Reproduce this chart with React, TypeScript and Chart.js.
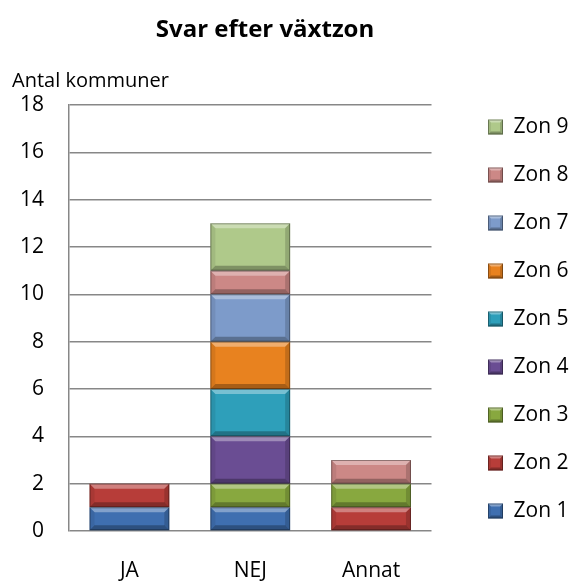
import React, { useEffect, useRef } from "react";
import { Chart, registerables } from "chart.js";

Chart.register(...registerables);

const categories = ["JA", "NEJ", "Annat"];
const zoneLabels = ["Zon 1", "Zon 2", "Zon 3", "Zon 4", "Zon 5", "Zon 6", "Zon 7", "Zon 8", "Zon 9"];
const zon1 = [1, 1, 0];
const zon2 = [1, 0, 1];
const zon3 = [0, 1, 1];
const zon4 = [0, 2, 0];
const zon5 = [0, 2, 0];
const zon6 = [0, 2, 0];
const zon7 = [0, 2, 0];
const zon8 = [0, 1, 1];
const zon9 = [0, 2, 0];
const zoneValues = [zon1, zon2, zon3, zon4, zon5, zon6, zon7, zon8, zon9];
const zoneColors = [
  "#3F6FB0", "#B73D39", "#88A83F", "#6A4D93", "#2E9FBA",
  "#E8821F", "#7D9BCA", "#CC8886", "#AFC98A",
];
const yTicks = [0, 2, 4, 6, 8, 10, 12, 14, 16, 18];
const chartTitle = "Svar efter växtzon";
const yAxisTitle = "Antal kommuner";

const FONT = "'Open Sans', sans-serif";

function bevel(ctx: CanvasRenderingContext2D, l: number, t: number, r: number, b: number, size: number) {
  const s = Math.min(size, (b - t) / 3);
  ctx.save();
  ctx.fillStyle = "rgba(255,255,255,0.35)";
  ctx.beginPath();
  ctx.moveTo(l, t); ctx.lineTo(r, t); ctx.lineTo(r - s, t + s); ctx.lineTo(l + s, t + s);
  ctx.closePath(); ctx.fill();
  ctx.fillStyle = "rgba(0,0,0,0.28)";
  ctx.beginPath();
  ctx.moveTo(l, b); ctx.lineTo(r, b); ctx.lineTo(r - s, b - s); ctx.lineTo(l + s, b - s);
  ctx.closePath(); ctx.fill();
  ctx.fillStyle = "rgba(0,0,0,0.08)";
  ctx.beginPath();
  ctx.moveTo(l, t); ctx.lineTo(l + s, t + s); ctx.lineTo(l + s, b - s); ctx.lineTo(l, b);
  ctx.closePath(); ctx.fill();
  ctx.fillStyle = "rgba(0,0,0,0.16)";
  ctx.beginPath();
  ctx.moveTo(r, t); ctx.lineTo(r - s, t + s); ctx.lineTo(r - s, b - s); ctx.lineTo(r, b);
  ctx.closePath(); ctx.fill();
  ctx.strokeStyle = "rgba(0,0,0,0.35)";
  ctx.lineWidth = 1;
  ctx.strokeRect(l + 0.5, t + 0.5, r - l - 1, b - t - 1);
  ctx.restore();
}

const bevelPlugin = {
  id: "bevel",
  afterDatasetsDraw(chart: any) {
    const ctx = chart.ctx;
    chart.data.datasets.forEach((ds: any, di: number) => {
      const meta = chart.getDatasetMeta(di);
      if (meta.hidden) return;
      meta.data.forEach((bar: any, i: number) => {
        if (!ds.data[i]) return;
        const p = bar.getProps(["x", "y", "base", "width"], true);
        bevel(ctx, p.x - p.width / 2, Math.min(p.y, p.base), p.x + p.width / 2, Math.max(p.y, p.base), 5);
      });
    });
  },
  afterDraw(chart: any) {
    const lg = chart.legend;
    if (!lg || !lg.legendHitBoxes) return;
    const ctx = chart.ctx;
    lg.legendHitBoxes.forEach((hb: any) => {
      const top = hb.top + Math.max((hb.height - 15) / 2, 0);
      bevel(ctx, hb.left, top, hb.left + 15, top + 15, 3);
    });
  },
};

const legendPlacePlugin = {
  id: "legendPlace",
  afterLayout(chart: any) {
    const lg = chart.legend;
    if (!lg) return;
    const w = lg.width;
    const h = lg.height;
    lg.left = 461;
    lg.right = 461 + w;
    lg.top = 89.5;
    lg.bottom = 89.5 + h;
  },
};

const textPlugin = {
  id: "texts",
  afterDraw(chart: any) {
    const ctx = chart.ctx;
    ctx.save();
    ctx.fillStyle = "#000";
    ctx.font = `bold 24px ${FONT}`;
    ctx.textAlign = "center";
    ctx.textBaseline = "middle";
    ctx.fillText(chartTitle, 265, 30);
    ctx.font = `20px ${FONT}`;
    ctx.textAlign = "left";
    ctx.textBaseline = "alphabetic";
    ctx.fillText(yAxisTitle, 12, 87);
    ctx.restore();
  },
};

const bgPlugin = {
  id: "bg",
  beforeDraw(chart: any) {
    const ctx = chart.ctx;
    ctx.save();
    ctx.fillStyle = "#fff";
    ctx.fillRect(0, 0, chart.width, chart.height);
    ctx.restore();
  },
};

export default function App() {
  const canvasRef = useRef<HTMLCanvasElement | null>(null);

  useEffect(() => {
    document.body.style.margin = "0";
    const canvas = canvasRef.current;
    if (!canvas) return;
    const chart = new Chart(canvas, {
      type: "bar",
      data: {
        labels: categories,
        datasets: zoneLabels.map((label, i) => ({
          label,
          data: zoneValues[i],
          backgroundColor: zoneColors[i],
          borderWidth: 0,
          categoryPercentage: 1,
          barPercentage: 0.66,
        })),
      },
      options: {
        animation: false,
        responsive: false,
        maintainAspectRatio: false,
        layout: { padding: { top: 105, bottom: 0, left: 0, right: 24 } },
        plugins: {
          title: { display: false },
          tooltip: { enabled: false },
          legend: {
            position: "right",
            align: "start",
            reverse: true,
            labels: {
              boxWidth: 15,
              boxHeight: 15,
              padding: 27,
              color: "#000",
              font: { family: FONT, size: 21 },
            },
          },
        },
        scales: {
          x: {
            type: "category",
            position: "bottom",
            stacked: true,
            grid: { display: false, drawTicks: false },
            border: { display: false },
            ticks: { color: "#000", padding: 27, font: { family: FONT, size: 21 } },
            afterFit: (s: any) => { s.height = 51; },
          },
          y: {
            type: "linear",
            position: "left",
            stacked: true,
            min: 0,
            max: 18,
            afterBuildTicks: (s: any) => { s.ticks = yTicks.map((v) => ({ value: v })); },
            grid: { color: "#878787", lineWidth: 1.5, drawTicks: false },
            border: { display: true, color: "#878787", width: 1.5 },
            ticks: { color: "#000", padding: 25, font: { family: FONT, size: 21 } },
            afterFit: (s: any) => { s.width = 69; },
          },
        },
      },
      plugins: [bgPlugin, legendPlacePlugin, bevelPlugin, textPlugin],
    });
    return () => chart.destroy();
  }, []);

  return (
    <div style={{ width: 573, height: 582 }}>
      <canvas ref={canvasRef} width={573} height={582} style={{ width: 573, height: 582, display: "block" }} />
    </div>
  );
}
